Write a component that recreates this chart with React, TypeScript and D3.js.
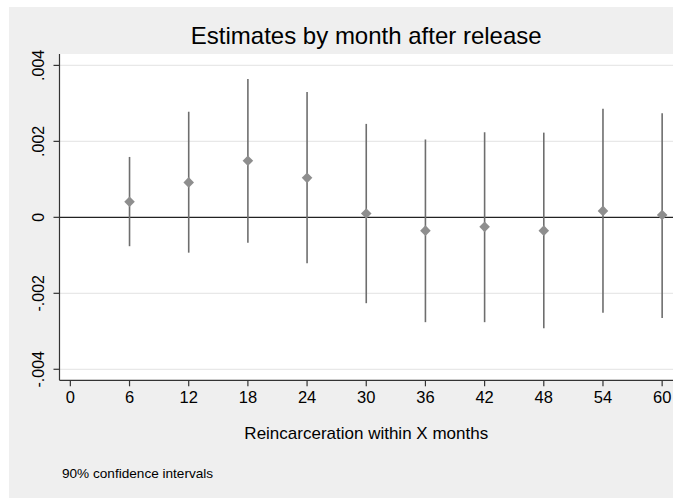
import React from 'react';
import * as d3 from 'd3';

// months after release
const months = [6, 12, 18, 24, 30, 36, 42, 48, 54, 60];
// point estimates and 90% CI bounds
const estimates = [0.00041, 0.00092, 0.00149, 0.00104, 0.0001, -0.00035, -0.00025, -0.00035, 0.00017, 0.00006];
const lower = [-0.00076, -0.00093, -0.00067, -0.00121, -0.00226, -0.00276, -0.00276, -0.00292, -0.00251, -0.00265];
const upper = [0.00159, 0.00278, 0.00364, 0.0033, 0.00246, 0.00205, 0.00224, 0.00223, 0.00286, 0.00274];

const xTicks = [0, 6, 12, 18, 24, 30, 36, 42, 48, 54, 60];
const yTicks = [-0.004, -0.002, 0, 0.002, 0.004];
const yTickLabels = ['-.004', '-.002', '0', '.002', '.004'];

const font = '"Liberation Sans", Arial, sans-serif';

export default function App() {
  const width = 676;
  const height = 498;
  const left = 59.5, right = 673, top = 54, bottom = 380.3;

  const x = d3.scaleLinear().domain([-1.1, 61.1]).range([left, right]);
  const y = d3.scaleLinear().domain([-0.00429, 0.0043]).range([bottom, top]);

  const diamond = d3.symbol().type(d3.symbolSquare).size(56)();

  const data = months.map((m, i) => ({ m, est: estimates[i], lo: lower[i], hi: upper[i] }));
  const cx = (left + right) / 2;

  return (
    <svg width={width} height={height} style={{ position: 'absolute', left: 0, top: 0 }}>
      <rect x={9} y={7} width={664} height={height} fill="#efefef" />
      <rect x={left} y={top} width={right - left} height={bottom - top} fill="#fff" />

      {/* gridlines */}
      {yTicks.filter(t => t !== 0).map(t => (
        <line key={t} x1={left} x2={right} y1={y(t)} y2={y(t)} stroke="#e8e8e8" strokeWidth={1.2} />
      ))}
      <line x1={left} x2={right} y1={y(0)} y2={y(0)} stroke="#222" strokeWidth={1.3} />

      {/* error bars */}
      {data.map(d => (
        <line key={'ci' + d.m} x1={x(d.m)} x2={x(d.m)} y1={y(d.lo)} y2={y(d.hi)} stroke="#6e6e6e" strokeWidth={1.6} />
      ))}
      {data.map(d => (
        <path key={'pt' + d.m} d={diamond!} transform={`translate(${x(d.m)},${y(d.est)}) rotate(45)`} fill="#8e8e8e" />
      ))}

      {/* axes */}
      <line x1={left} x2={left} y1={top} y2={bottom} stroke="#333" strokeWidth={1.2} />
      <line x1={left} x2={right} y1={bottom} y2={bottom} stroke="#333" strokeWidth={1.2} />
      {yTicks.map((t, i) => (
        <g key={'yt' + t}>
          <line x1={left - 6} x2={left} y1={y(t)} y2={y(t)} stroke="#333" strokeWidth={1.2} />
          <text transform={`translate(44,${y(t)}) rotate(-90)`} textAnchor="middle" fontFamily={font} fontSize={16} fill="#000">
            {yTickLabels[i]}
          </text>
        </g>
      ))}
      {xTicks.map(t => (
        <g key={'xt' + t}>
          <line x1={x(t)} x2={x(t)} y1={bottom} y2={bottom + 6} stroke="#333" strokeWidth={1.2} />
          <text x={x(t)} y={403} textAnchor="middle" fontFamily={font} fontSize={16.5} fill="#000">{t}</text>
        </g>
      ))}

      <text x={cx} y={43.5} textAnchor="middle" fontFamily={font} fontSize={24} fill="#000">
        Estimates by month after release
      </text>
      <text x={cx} y={439} textAnchor="middle" fontFamily={font} fontSize={17} fill="#000">
        Reincarceration within X months
      </text>
      <text x={62} y={478} fontFamily={font} fontSize={13.6} fill="#000">90% confidence intervals</text>
    </svg>
  );
}
